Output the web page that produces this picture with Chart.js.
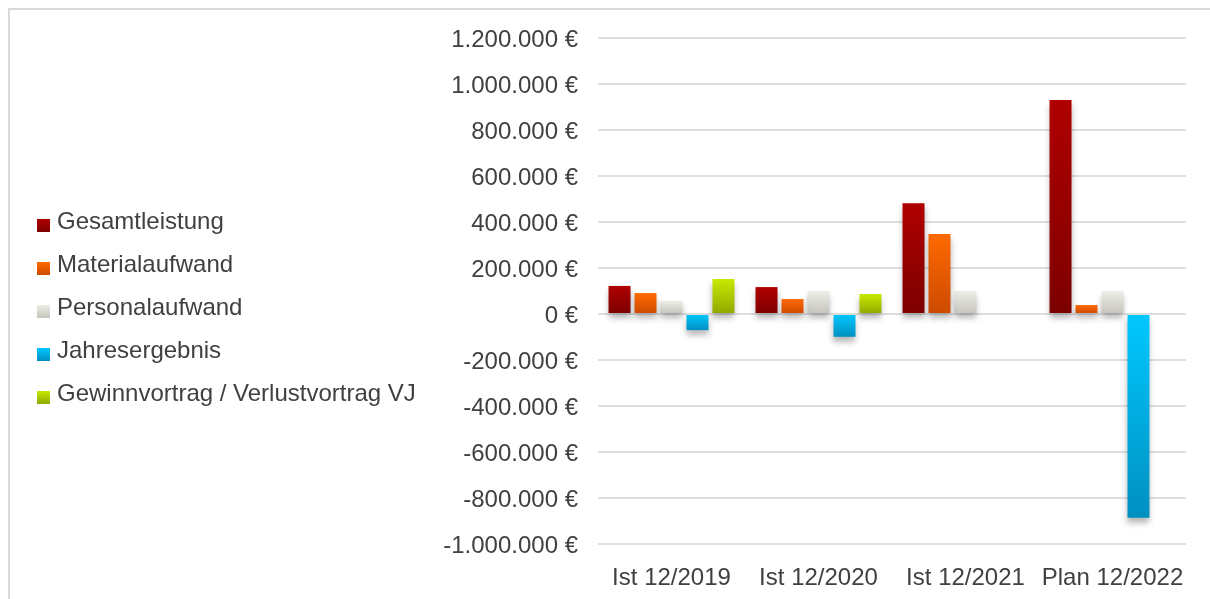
<!DOCTYPE html>
<html lang="de">
<head>
<meta charset="utf-8">
<script src="https://cdn.jsdelivr.net/npm/chart.js@4/dist/chart.umd.min.js"></script>
<style>
  html, body { margin: 0; padding: 0; background: #fff; width: 1210px; height: 599px; overflow: hidden; }
  #rahmen { position: absolute; left: 8px; top: 8px; width: 1210px; height: 599px;
            border-top: 2px solid #d9d9d9; border-left: 2px solid #d9d9d9; }
  #wrap { position: absolute; left: 0; top: 0; width: 1210px; height: 599px; }
</style>
</head>
<body>
<div id="rahmen"></div>
<div id="wrap"><canvas id="grafik" width="1210" height="599"></canvas></div>
<script>
// Kennzahlen je Stichtag (Ist / Plan), Werte in Euro
const kategorien = ["Ist 12/2019", "Ist 12/2020", "Ist 12/2021", "Plan 12/2022"];
const gesamtleistung  = [122000, 117000, 481000, 930000];
const materialaufwand = [91000, 65000, 348000, 39000];
const personalaufwand = [57000, 100000, 100000, 100000];
const jahresergebnis  = [-70000, -99000, 0, -886000];
const gewinnvortrag   = [152000, 87000, null, null];

const Y_MIN = -1000000;
const Y_MAX = 1200000;
const Y_SCHRITT = 200000;

const SCHRIFT = "'Liberation Sans', Arial, sans-serif";
const GROESSE = 24;
const TEXTFARBE = "#404040";
const PAD_LINKS = 13;

// Farben je Reihe: [hell, dunkel, mitte]
const FARBEN = [
  ["#b00000", "#7c0000", "#990000"],
  ["#ff6a00", "#cc4a00", "#ee5c00"],
  ["#eeeee8", "#c4c4bc", "#dcdcd6"],
  ["#00c8ff", "#0090c0", "#00aee0"],
  ["#c8e800", "#90a800", "#aacc00"],
];

// "1.200.000 €" – Tausenderpunkt wie in der Vorlage
function euro(v) {
  const s = String(Math.abs(v)).replace(/\B(?=(\d{3})+(?!\d))/g, ".");
  return (v < 0 ? "-" : "") + s + " €";
}

// Verlauf pro Balken: hell oben, dunkel unten (auch bei negativen Werten)
function verlauf([hell, dunkel, mitte]) {
  return (c) => {
    if (c.type !== "data") return mitte;
    const y = c.chart.scales.y;
    if (!y || c.raw == null) return mitte;
    const a = y.getPixelForValue(c.raw);
    const b = y.getPixelForValue(0);
    if (!isFinite(a) || !isFinite(b)) return mitte;
    const oben = Math.min(a, b), unten = Math.max(a, b);
    if (unten - oben < 1) return hell;
    const g = c.chart.ctx.createLinearGradient(0, oben, 0, unten);
    g.addColorStop(0, hell);
    g.addColorStop(1, dunkel);
    return g;
  };
}

// Legendensymbol als kleines Bild: Quadrat mit Verlauf, etwas nach unten/rechts versetzt
function symbol([hell, dunkel]) {
  const c = document.createElement("canvas");
  c.width = 23;
  c.height = 24;
  const g = c.getContext("2d");
  const v = g.createLinearGradient(0, 9, 0, 22);
  v.addColorStop(0, hell);
  v.addColorStop(1, dunkel);
  g.fillStyle = v;
  g.fillRect(10, 9, 13, 13);
  return c;
}
const SYMBOLE = FARBEN.map(symbol);

const schatten = {
  id: "schatten",
  beforeDatasetsDraw(chart) {
    const ctx = chart.ctx;
    ctx.save();
    ctx.shadowColor = "rgba(0,0,0,0.28)";
    ctx.shadowBlur = 6;
    ctx.shadowOffsetY = 5;
  },
  afterDatasetsDraw(chart) { chart.ctx.restore(); },
};

function serie(label, daten, farben) {
  return {
    label,
    data: daten,
    backgroundColor: verlauf(farben),
    borderWidth: 0,
    categoryPercentage: 0.884,
    barPercentage: 0.846,
  };
}

new Chart(document.getElementById("grafik"), {
  type: "bar",
  data: {
    labels: kategorien,
    datasets: [
      serie("Gesamtleistung", gesamtleistung, FARBEN[0]),
      serie("Materialaufwand", materialaufwand, FARBEN[1]),
      serie("Personalaufwand", personalaufwand, FARBEN[2]),
      serie("Jahresergebnis", jahresergebnis, FARBEN[3]),
      serie("Gewinnvortrag / Verlustvortrag VJ", gewinnvortrag, FARBEN[4]),
    ],
  },
  options: {
    responsive: false,
    animation: false,
    layout: { padding: { left: PAD_LINKS, right: 24, top: 38, bottom: 0 } },
    plugins: {
      tooltip: { enabled: false },
      legend: {
        position: "left",
        fullSize: false,
        maxWidth: 440,
        // leerer Titel nur als Abstand, damit die Legende tiefer sitzt
        title: { display: true, text: "", padding: 0, font: { size: 34, lineHeight: 1 } },
        labels: {
          usePointStyle: true,
          boxWidth: 13,
          boxHeight: 13,
          padding: 19,
          color: TEXTFARBE,
          font: { family: SCHRIFT, size: GROESSE },
          generateLabels(chart) {
            const items = Chart.defaults.plugins.legend.labels.generateLabels(chart);
            items.forEach((it) => { it.pointStyle = SYMBOLE[it.datasetIndex]; });
            return items;
          },
        },
      },
    },
    scales: {
      x: {
        grid: { display: false, drawTicks: false },
        border: { display: false },
        ticks: { color: TEXTFARBE, font: { family: SCHRIFT, size: GROESSE }, padding: 20, maxRotation: 0 },
        afterFit(s) { s.height = 55; },
      },
      y: {
        min: Y_MIN,
        max: Y_MAX,
        grid: { color: "#dedede", lineWidth: 2, drawTicks: false },
        border: { display: false },
        ticks: {
          stepSize: Y_SCHRITT,
          color: TEXTFARBE,
          font: { family: SCHRIFT, size: GROESSE },
          padding: 20,
          labelOffset: 2,
          callback: (v) => euro(v),
        },
        afterFit(s) {
          const lg = s.chart.legend;
          if (lg && lg.width) s.width = 598 - PAD_LINKS - lg.width;
        },
      },
    },
  },
  plugins: [schatten],
});
</script>
</body>
</html>
